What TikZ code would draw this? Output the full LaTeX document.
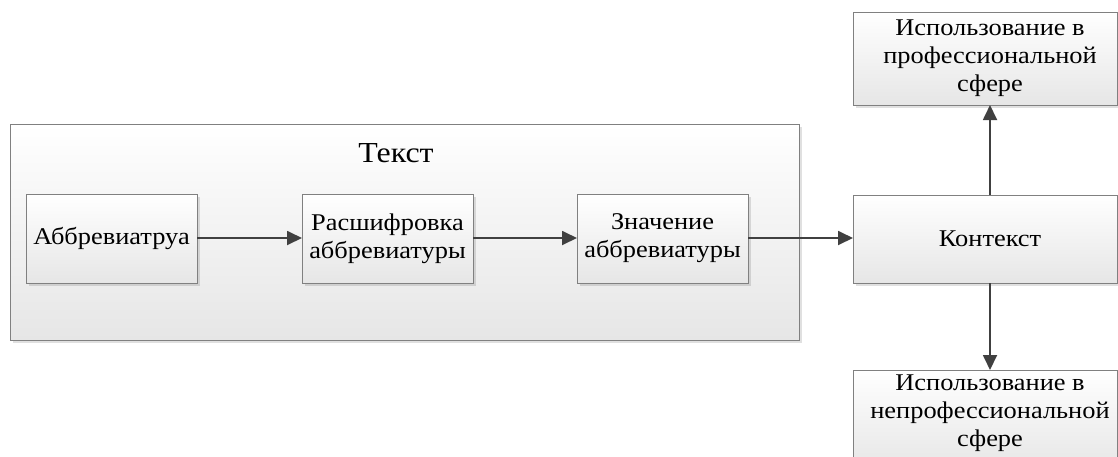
\documentclass[tikz,border=0pt]{standalone}
\usepackage{fontspec}
\setmainfont{Liberation Serif}[FakeStretch=1.1]
\usetikzlibrary{arrows.meta,shadows}
\definecolor{bordergray}{HTML}{808080}
\definecolor{arrowgray}{HTML}{404040}
\definecolor{shadegray}{HTML}{E6E6E6}
\tikzset{
  x=1pt,y=-1pt,
  boxstyle/.style={draw=bordergray, line width=1pt, top color=white, bottom color=shadegray,
    drop shadow={shadow xshift=3pt, shadow yshift=-3pt, fill=black, opacity=0.12}},
  lbl/.style={font=\fontsize{24}{28}\selectfont, align=center, text=black},
  conn/.style={draw=arrowgray, line width=1.8pt, -{Triangle[length=15pt,width=14pt]}}
}
\begin{document}
\begin{tikzpicture}
\useasboundingbox (0,0) rectangle (1118,456);
\clip (0,0) rectangle (1118,456);
% outer text box
\path[boxstyle] (10,124) rectangle (799,340);
\node[font=\fontsize{29}{33}\selectfont] (title) at (396,153) {Текст};
% inner boxes
\path[boxstyle] (26,194) rectangle (197,283);
\node[lbl] (abbr) at (111.5,238.5) {Аббревиатруа};
\coordinate (abbrR) at (197,238);
\path[boxstyle] (302,194) rectangle (473,283);
\node[lbl] (rasch) at (387.5,238.5) {Расшифровка\\аббревиатуры};
\coordinate (raschL) at (302,238);
\coordinate (raschR) at (473,238);
\path[boxstyle] (577,194) rectangle (748,283);
\node[lbl] (znach) at (662.5,238.5) {Значение\\аббревиатуры};
\coordinate (znachL) at (577,238);
\coordinate (znachR) at (748,238);
% context
\path[boxstyle] (853,195) rectangle (1117,283);
\node[lbl] (kont) at (990,239) {Контекст};
\coordinate (kontL) at (853,238);
\coordinate (kontT) at (990,195);
\coordinate (kontB) at (990,283);
% top box
\path[boxstyle] (853,12) rectangle (1117,105);
\node[lbl] (prof) at (990,58) {Использование в\\профессиональной\\сфере};
\coordinate (profB) at (990,105);
% bottom box
\path[boxstyle] (853,370) rectangle (1117,470);
\node[lbl] (neprof) at (990,413) {Использование в\\непрофессиональной\\сфере};
\coordinate (neprofT) at (990,370);
% connectors
\draw[conn] (abbrR) -- (raschL);
\draw[conn] (raschR) -- (znachL);
\draw[conn] (znachR) -- (kontL);
\draw[conn] (kontT) -- (profB);
\draw[conn] (kontB) -- (neprofT);
\end{tikzpicture}
\end{document}
